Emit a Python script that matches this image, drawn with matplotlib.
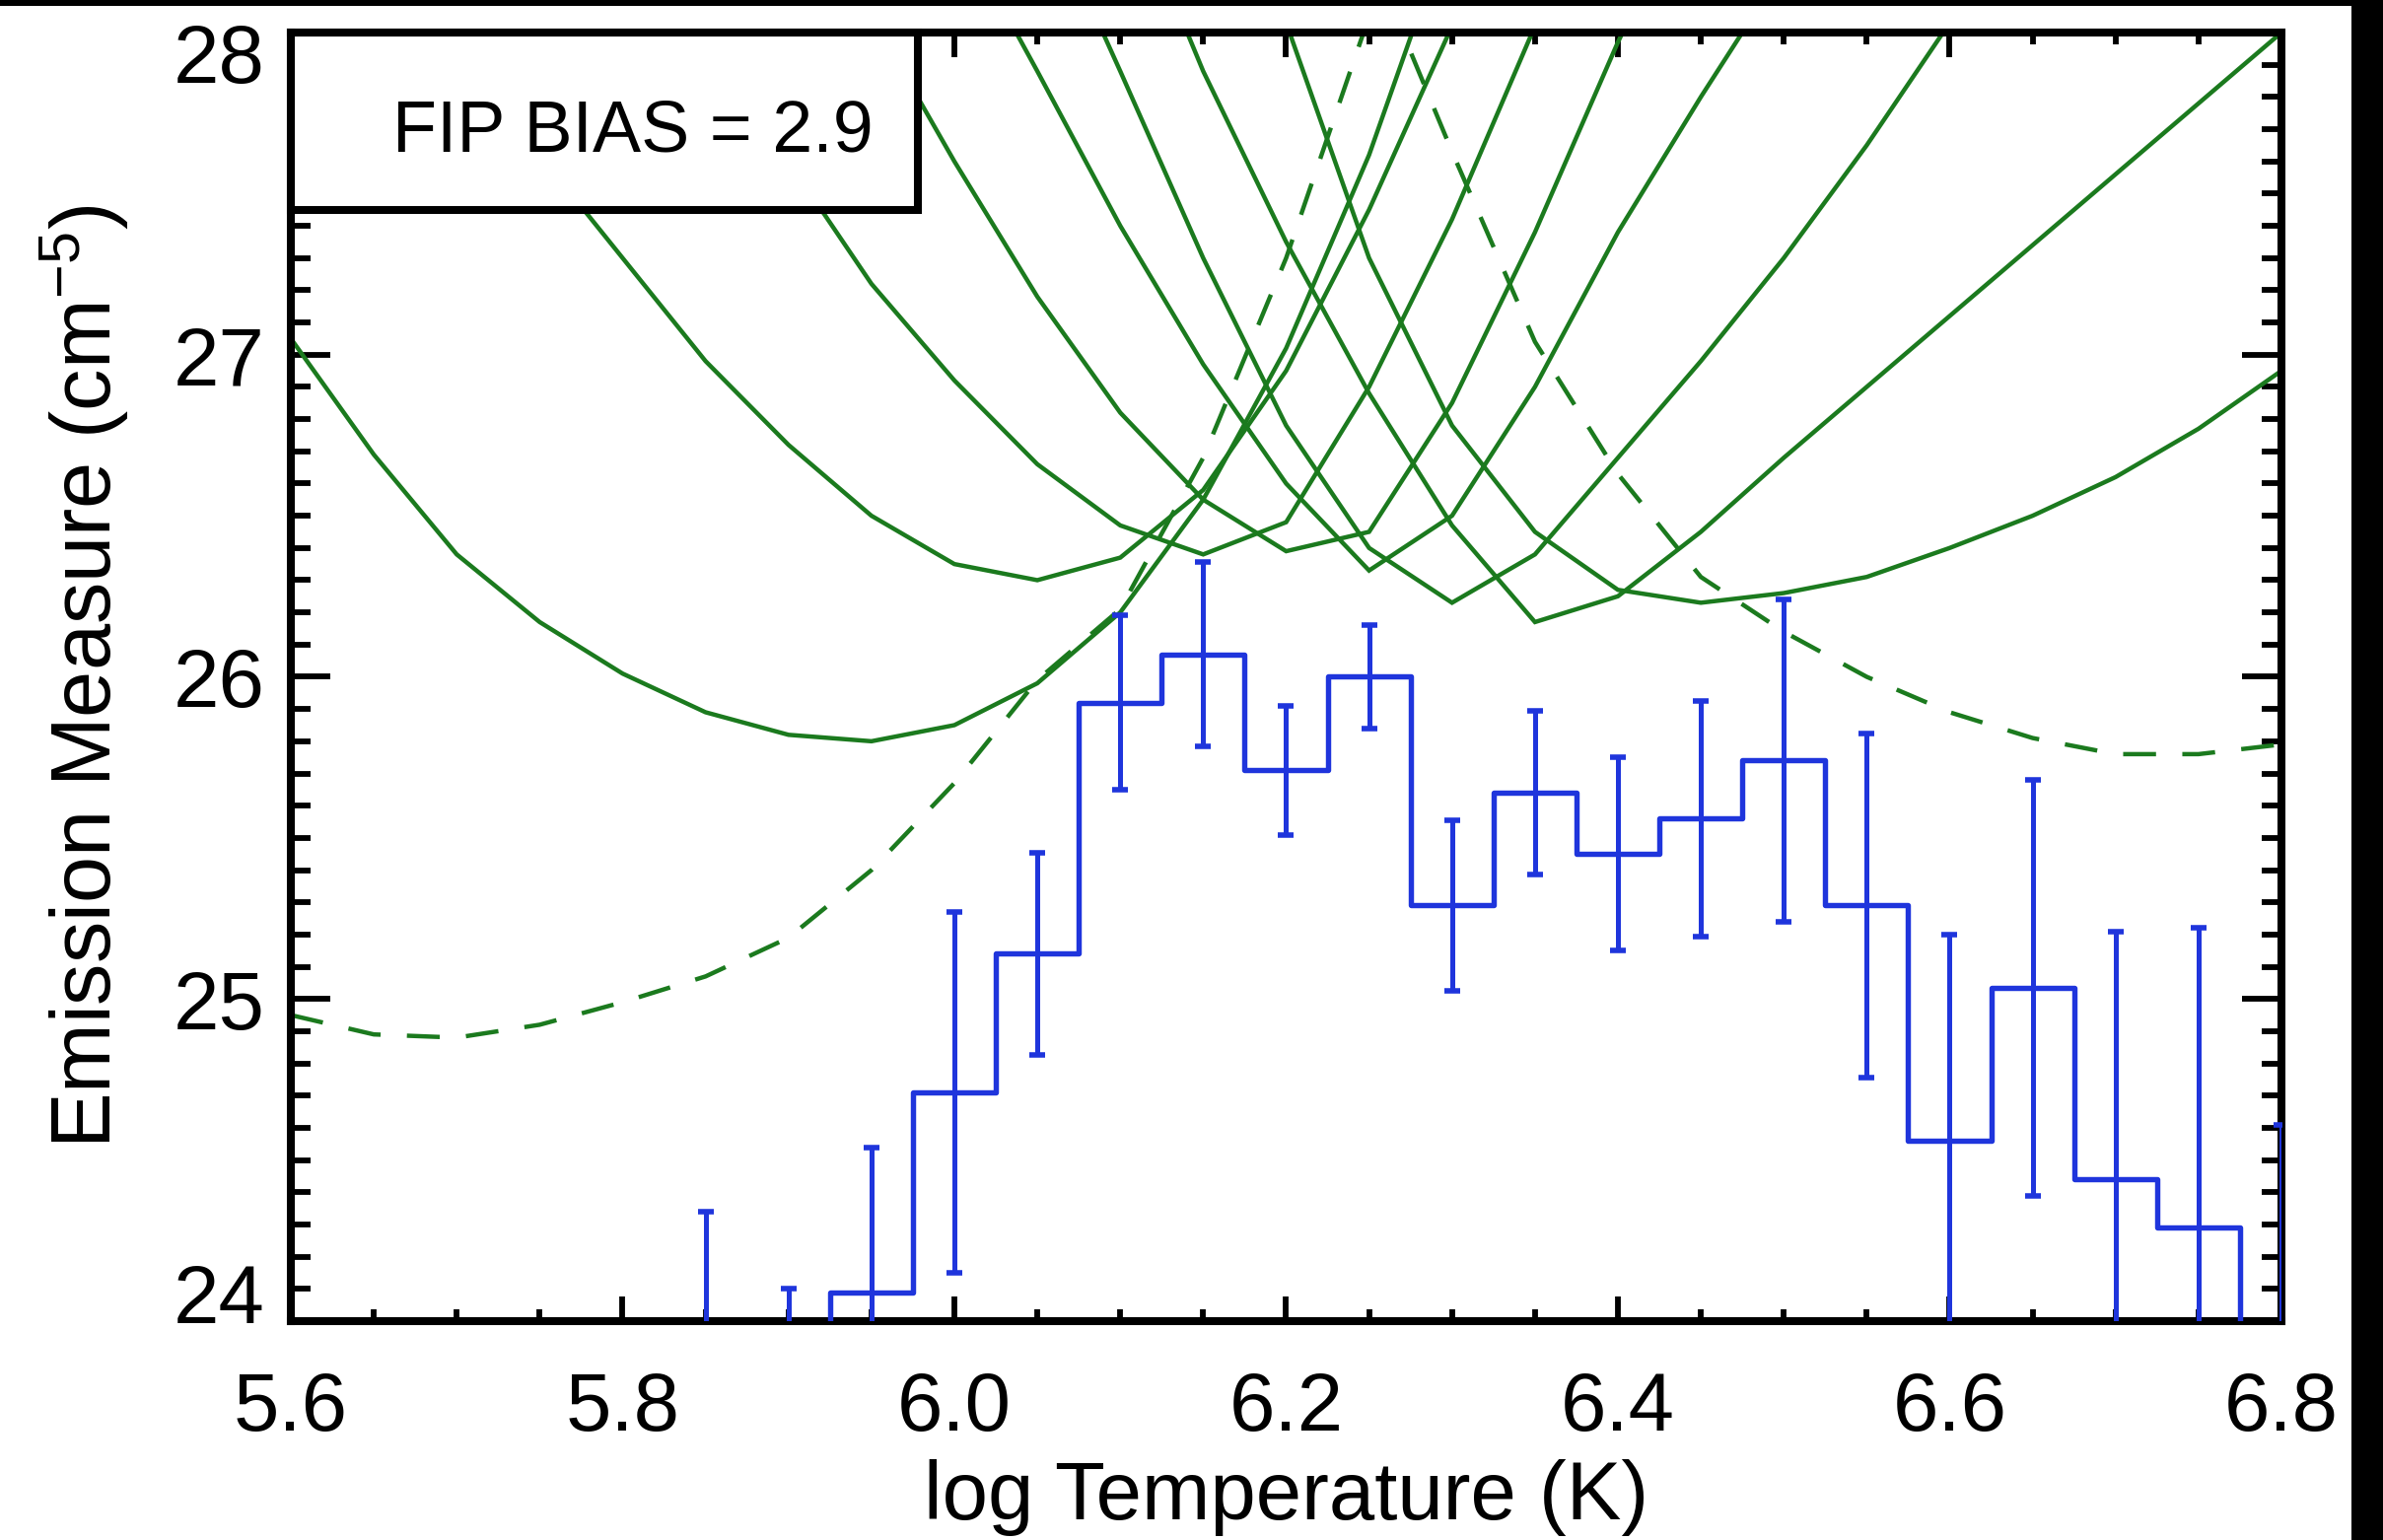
import numpy as np
import matplotlib
matplotlib.use("Agg")
import matplotlib.pyplot as plt
from matplotlib.patches import Rectangle
from matplotlib.ticker import MultipleLocator, FormatStrFormatter
from matplotlib.transforms import ScaledTranslation, blended_transform_factory

plt.rcParams["font.family"] = ["Liberation Sans", "DejaVu Sans"]
plt.rcParams["mathtext.fontset"] = "custom"
plt.rcParams["mathtext.rm"] = "Liberation Sans"
plt.rcParams["mathtext.it"] = "Liberation Sans"
plt.rcParams["mathtext.bf"] = "Liberation Sans"

# ---------------- data ----------------
# DEM histogram (log T bin centres, log EM, 1-sigma errors)
dem_logt = [5.85, 5.90, 5.95, 6.00, 6.05, 6.10, 6.15, 6.20, 6.25, 6.30,
            6.35, 6.40, 6.45, 6.50, 6.55, 6.60, 6.65, 6.70, 6.75, 6.80]
dem_em = [23.55, 23.70, 24.09, 24.71, 25.14, 25.92, 26.07, 25.71, 26.00, 25.29,
          25.64, 25.45, 25.56, 25.74, 25.29, 24.56, 25.035, 24.44, 24.29, 23.75]
dem_err = [0.79, 0.40, 0.45, 0.56, 0.315, 0.27, 0.285, 0.20, 0.16, 0.265,
           0.255, 0.30, 0.365, 0.50, 0.535, 0.64, 0.645, 0.77, 0.93, 0.86]

# temperature grid of the EM-loci curves
loci_logt = [5.60, 5.65, 5.70, 5.75, 5.80, 5.85, 5.90, 5.95, 6.00, 6.05,
             6.10, 6.15, 6.20, 6.25, 6.30, 6.35, 6.40, 6.45, 6.50, 6.55,
             6.60, 6.65, 6.70, 6.75, 6.80]
nan = np.nan
# solid EM-loci curves
locus_1 = [27.05, 26.69, 26.38, 26.17, 26.01, 25.89, 25.82, 25.80, 25.85, 25.98,
           26.20, 26.55, 27.02, 27.62, 28.35] + [nan] * 10
locus_2 = [nan, nan, 28.02, 27.62, 27.30, 26.98, 26.72, 26.50, 26.35, 26.30,
           26.37, 26.58, 26.95, 27.45, 28.02] + [nan] * 10
locus_3 = [nan] * 5 + [28.00, 27.60, 27.22, 26.92, 26.66, 26.47, 26.38, 26.48,
                       26.90, 27.42, 28.02] + [nan] * 9
locus_4 = [nan] * 7 + [28.05, 27.60, 27.18, 26.82, 26.55, 26.39, 26.45, 26.85,
                       27.38, 27.97, 28.50] + [nan] * 7
locus_5 = [nan] * 8 + [28.35, 27.88, 27.40, 26.97, 26.60, 26.33, 26.50, 26.90,
                       27.38, 27.80, 28.20] + [nan] * 6
locus_6 = [nan] * 9 + [28.45, 27.88, 27.30, 26.78, 26.40, 26.23, 26.38, 26.68,
                       26.98, 27.30, 27.65, 28.03] + [nan] * 4
locus_7 = [nan] * 10 + [28.50, 27.88, 27.35, 26.88, 26.47, 26.17, 26.25, 26.45,
                        26.68, 26.90, 27.12, 27.34, 27.56, 27.78, 28.00]
locus_8 = [nan] * 11 + [28.90, 28.03, 27.30, 26.78, 26.45, 26.27, 26.23, 26.26,
                        26.31, 26.40, 26.50, 26.62, 26.77, 26.95]
# dashed EM-loci curves
locus_dash_1 = [24.95, 24.89, 24.88, 24.92, 24.99, 25.07, 25.19, 25.40, 25.67, 25.99,
                26.21, 26.68, 27.30, 28.05] + [nan] * 11
locus_dash_2 = [nan] * 12 + [28.80, 28.25, 27.63, 27.04, 26.63, 26.31, 26.14, 26.00,
                             25.89, 25.81, 25.76, 25.76, 25.79]

solid_loci = [locus_1, locus_2, locus_3, locus_4, locus_5, locus_6, locus_7, locus_8]
dashed_loci = [locus_dash_1, locus_dash_2]

xticks = [5.6, 5.8, 6.0, 6.2, 6.4, 6.6, 6.8]
yticks = [24, 25, 26, 27, 28]
fip_label = "FIP BIAS = 2.9"

# ---------------- figure ----------------
GREEN = "#1b7a1e"
BLUE = "#1f35dc"

fig = plt.figure(figsize=(24.17, 15.62), dpi=100)
fig.patch.set_facecolor("white")
ax = fig.add_axes([0.12205, 0.14213, 0.83533, 0.83675])

for vals in solid_loci:
    ax.plot(loci_logt, vals, color=GREEN, lw=3.2, solid_joinstyle="miter", zorder=2)
for vals in dashed_loci:
    ax.plot(loci_logt, vals, color=GREEN, lw=3.2, linestyle=(0, (7.5, 6.0)), zorder=2)

ax.plot(dem_logt, dem_em, drawstyle="steps-mid", color=BLUE, lw=3.9, zorder=7)
ax.errorbar(dem_logt, dem_em, yerr=dem_err, fmt="none", ecolor=BLUE,
            elinewidth=3.6, capsize=5.5, capthick=4.0, zorder=7)

ax.set_xlim(5.6, 6.8)
ax.set_ylim(24, 28)

ax.set_xticks(xticks)
ax.xaxis.set_major_formatter(FormatStrFormatter("%.1f"))
ax.xaxis.set_minor_locator(MultipleLocator(0.05))
ax.set_yticks(yticks)
ax.yaxis.set_minor_locator(MultipleLocator(0.1))

for s in ax.spines.values():
    s.set_linewidth(5.8)
    s.set_zorder(6)

ax.tick_params(axis="both", which="both", direction="in", top=True, right=True,
               colors="black", width=4.2)
ax.tick_params(axis="x", which="major", length=18, pad=36, labelsize=60)
ax.tick_params(axis="x", which="minor", length=8.5)
ax.tick_params(axis="y", which="major", length=29, labelleft=False)
ax.tick_params(axis="y", which="minor", length=14.5)

# y tick labels; the end labels are nudged to stay within the frame height
ylab_tr = blended_transform_factory(ax.transAxes, ax.transData)
for v in yticks:
    shift = 0.0
    if v == yticks[-1]:
        shift = -0.21
    elif v == yticks[0]:
        shift = 0.28
    ax.text(-0.0129, v, f"{v:d}", fontsize=60, ha="right", va="center_baseline",
            transform=ylab_tr + ScaledTranslation(0, shift, fig.dpi_scale_trans),
            clip_on=False)

ax.set_xlabel("log Temperature (K)", fontsize=60)
ax.xaxis.set_label_coords(0.5, -0.107)
ax.set_ylabel(r"Emission Measure (cm$^{\mathregular{-5}}$)", fontsize=61)
ax.yaxis.set_label_coords(-0.080, 0.5)

# annotation box in the upper left corner
ax.add_patch(Rectangle((0.0, 0.862), 0.315, 0.138, transform=ax.transAxes,
                       facecolor="white", edgecolor="black", lw=5.8,
                       zorder=5, clip_on=False))
ax.text(0.2927, 0.908, fip_label, transform=ax.transAxes, ha="right",
        va="baseline", fontsize=53, zorder=8)

# dark borders along the top and right edges of the canvas
fig.patches.append(Rectangle((0, 1 - 6 / 1562), 1, 6 / 1562, transform=fig.transFigure,
                             facecolor="black", edgecolor="none", zorder=10))
fig.patches.append(Rectangle((2385 / 2417, 0), 1 - 2385 / 2417, 1, transform=fig.transFigure,
                             facecolor="black", edgecolor="none", zorder=10))

fig.savefig("out.png", dpi=100, facecolor="white")
